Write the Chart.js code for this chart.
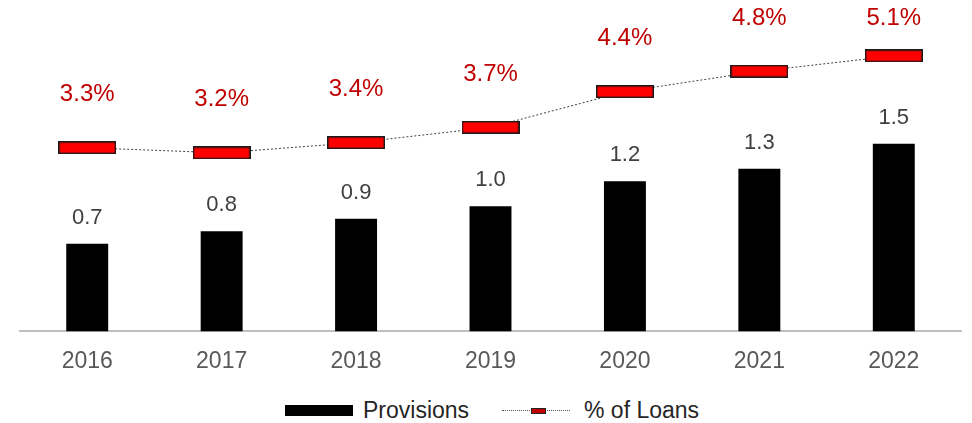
<!DOCTYPE html>
<html>
<head>
<meta charset="utf-8">
<script src="https://cdn.jsdelivr.net/npm/chart.js@4"></script>
<style>
  html, body { margin: 0; padding: 0; background: #fff; }
  body { width: 972px; height: 423px; position: relative; overflow: hidden;
         font-family: "Liberation Sans", Arial, sans-serif; }
  #wrap { position: absolute; left: 0; top: 0; width: 972px; height: 396px; }
  .legend { position: absolute; top: 396px; height: 28px; display: flex; align-items: center;
            font-size: 23px; color: #262626; white-space: nowrap; }
  .swatch-bar { width: 68px; height: 11px; background: #000; margin-right: 10px; }
  .swatch-line { position: relative; width: 68px; height: 11px; margin-right: 14px; }
  .swatch-line .dots { position: absolute; left: 0; right: 0; top: 5px; border-top: 1px dotted #555; }
  .swatch-line .mark { position: absolute; left: 29px; top: 3px; width: 13px; height: 4px;
                       background: #c00000; border: 1px solid #222; }
</style>
</head>
<body>
<div id="wrap"><canvas id="chart"></canvas></div>
<div class="legend" style="left:285px;"><div class="swatch-bar"></div><span>Provisions</span></div>
<div class="legend" style="left:502px;"><div class="swatch-line"><div class="dots"></div><div class="mark"></div></div><span>% of Loans</span></div>
<script>
// Years on the category axis
const years = ['2016', '2017', '2018', '2019', '2020', '2021', '2022'];
// Provisions (bars)
const provisions = [0.7, 0.8, 0.9, 1.0, 1.2, 1.3, 1.5];
// Provisions as % of loans (line)
const pctOfLoans = [3.3, 3.2, 3.4, 3.7, 4.4, 4.8, 5.1];

const FONT = '"Liberation Sans", Arial, sans-serif';

// Red bar-shaped marker for the % of loans series
const marker = document.createElement('canvas');
marker.width = 58; marker.height = 13;
(function () {
  const c = marker.getContext('2d');
  c.fillStyle = '#ff0000';
  c.fillRect(0, 0, 58, 13);
  c.strokeStyle = '#1a1a1a';
  c.lineWidth = 1.5;
  c.strokeRect(0.75, 0.75, 56.5, 11.5);
})();

// Value labels above bars and markers
const valueLabels = {
  id: 'valueLabels',
  afterDatasetsDraw(chart) {
    const ctx = chart.ctx;
    ctx.save();
    ctx.textAlign = 'center';
    ctx.textBaseline = 'middle';
    ctx.font = '22px ' + FONT;
    ctx.fillStyle = '#404040';
    chart.getDatasetMeta(0).data.forEach((el, i) => {
      ctx.fillText(provisions[i].toFixed(1), el.x, el.y - 26);
    });
    ctx.font = '24px ' + FONT;
    ctx.fillStyle = '#c00000';
    const top = chart.chartArea.top + 8.5;
    chart.getDatasetMeta(1).data.forEach((el, i) => {
      ctx.fillText(pctOfLoans[i].toFixed(1) + '%', el.x, Math.max(el.y - 53, top));
    });
    ctx.restore();
  }
};

new Chart(document.getElementById('chart'), {
  data: {
    labels: years,
    datasets: [
      {
        type: 'bar',
        label: 'Provisions',
        data: provisions,
        backgroundColor: '#000000',
        barPercentage: 0.312,
        categoryPercentage: 1.0,
        yAxisID: 'y',
        order: 2
      },
      {
        type: 'line',
        label: '% of Loans',
        data: pctOfLoans,
        borderColor: '#404040',
        borderWidth: 1,
        borderDash: [2, 2],
        fill: false,
        tension: 0,
        pointStyle: marker,
        pointRadius: 6,
        yAxisID: 'y2',
        order: 1
      }
    ]
  },
  options: {
    responsive: true,
    maintainAspectRatio: false,
    animation: false,
    layout: { padding: { left: 20, right: 11, top: 10, bottom: 5 } },
    plugins: {
      legend: { display: false },
      tooltip: { enabled: false }
    },
    scales: {
      x: {
        grid: { display: false, drawTicks: false },
        border: { display: true, color: '#bfbfbf', width: 2 },
        ticks: { color: '#595959', font: { size: 23, family: FONT }, padding: 16 }
      },
      y: { display: false, min: 0, max: 2.568 },
      y2: { display: false, min: -0.3, max: 6.0, position: 'right' }
    }
  },
  plugins: [valueLabels]
});
</script>
</body>
</html>
